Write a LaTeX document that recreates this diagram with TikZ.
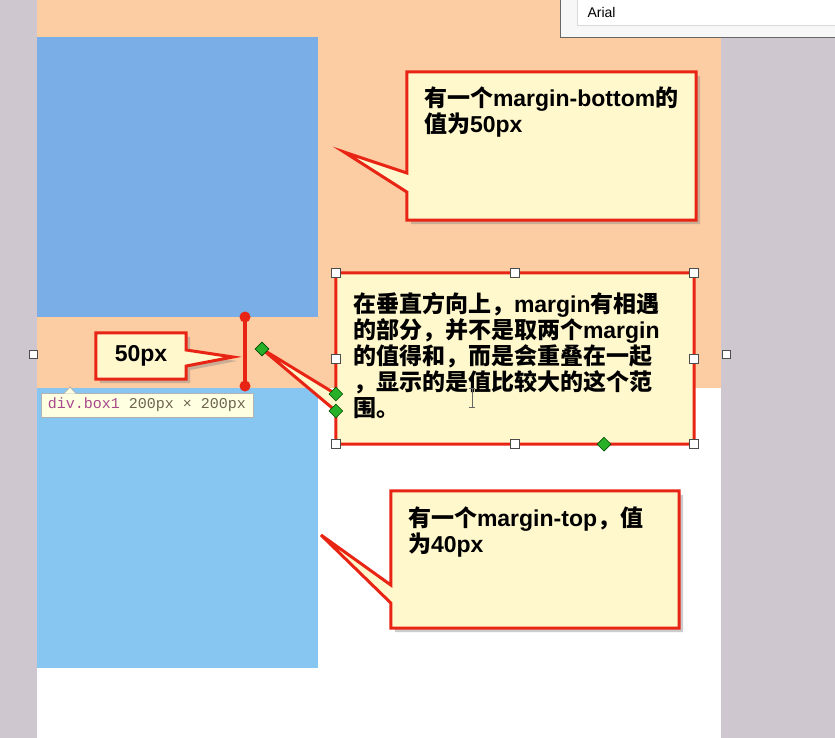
\documentclass[tikz,border=0pt]{standalone}
\usepackage{fontspec}
\setmainfont{Liberation Sans}
\newfontfamily\cjk{Noto Sans CJK SC}
\newfontfamily\tipfont{Liberation Mono}
\usepackage{xcolor}
\usepackage{tikz}
\usetikzlibrary{shapes}
\usetikzlibrary{shadows}
\usetikzlibrary{positioning}
\definecolor{peach}{RGB}{252,204,163}
\definecolor{side}{RGB}{207,199,208}
\definecolor{boxa}{RGB}{122,174,230}
\definecolor{boxb}{RGB}{136,198,242}
\definecolor{notefill}{RGB}{255,248,204}
\definecolor{notered}{RGB}{232,36,20}
\definecolor{tipfill}{RGB}{255,255,225}
\definecolor{tipname}{RGB}{168,72,140}
\definecolor{tipsize}{RGB}{110,100,80}
\definecolor{knobgreen}{RGB}{40,176,40}

\begin{document}
\begin{tikzpicture}[x=1pt,y=-1pt,
  frame/.style={rectangle,inner sep=0pt},
  noteline/.style={draw=notered,fill=notefill,line width=3pt,line join=miter},
  noteshadow/.style={drop shadow={shadow xshift=4pt,shadow yshift=-4pt,opacity=0.4}},
  notetext/.style={inner sep=0pt,align=left,font=\fontsize{23}{26}\selectfont\bfseries},
  handle/.style={rectangle,draw=black!70,fill=white,minimum size=9pt,inner sep=0pt,line width=0.8pt},
  knob/.style={diamond,draw=green!30!black,fill=knobgreen,minimum size=14pt,inner sep=0pt,line width=0.6pt},
  dot/.style={circle,fill=notered,minimum size=11pt,inner sep=0pt}]
  \useasboundingbox (0,0) rectangle (835,738);
  % page and the two boxes
  \fill[side] (0,0) rectangle (835,738);
  \fill[white] (37,0) rectangle (721,738);
  \fill[peach] (37,0) rectangle (721,388);
  \fill[boxa] (37,37) rectangle (318,317);
  \fill[boxb] (37,388) rectangle (318,668);

  % font panel
  \filldraw[fill=black!3,draw=black!60,line width=1pt] (560,-5) rectangle (840,38);
  \filldraw[fill=white,draw=black!15] (577,-5) rectangle (840,25);
  \node[anchor=west,font=\fontsize{14}{16}\selectfont] (fontname) at (584,12) {Arial};

  % margin-bottom note
  \node[frame,minimum width=289pt,minimum height=148pt] (topnote) at (551.5,146) {};
  \coordinate (toptip) at (344,152);
  \draw[noteline,noteshadow] (topnote.north west) -- (topnote.north east) -- (topnote.south east)
    -- (topnote.south west) -- (topnote.west |- 0,192) -- (toptip) -- (topnote.west |- 0,173) -- cycle;
  \node[notetext,below right=15pt and 17pt of topnote.north west] (toptext)
    {{\cjk 有一个}margin-bottom{\cjk 的}\\{\cjk 值为}50px};

  % margin-top note
  \node[frame,minimum width=288pt,minimum height=137pt] (lownote) at (535,559.5) {};
  \coordinate (lowtip) at (321,535);
  \draw[noteline,noteshadow] (lownote.north west) -- (lownote.north east) -- (lownote.south east)
    -- (lownote.south west) -- (lownote.west |- 0,603) -- (lowtip) -- (lownote.west |- 0,585) -- cycle;
  \node[notetext,below right=16pt and 17pt of lownote.north west] (lowtext)
    {{\cjk 有一个}margin-top{\cjk ，值}\\{\cjk 为}40px};

  % tooltip
  \node[rectangle,draw=black!30,fill=tipfill,line width=0.8pt,minimum width=212pt,minimum height=24pt,
    inner sep=0pt,font=\tipfont\fontsize{15}{17}\selectfont] (tip) at (147,405)
    {\textcolor{tipname}{div.box1} \textcolor{tipsize}{200px × 200px}};
  \filldraw[fill=tipfill,draw=black!30,line width=0.8pt] (64,393.5) -- (70,387) -- (76,393.5);

  % the 50px gap
  \node[dot] (mtop) at (245,317) {};
  \node[dot] (mbot) at (245,386) {};
  \draw[notered,line width=4pt] (mtop.center) -- (mbot.center);

  \node[frame,minimum width=90pt,minimum height=46pt] (pxnote) at (141,356) {};
  \coordinate (pxtip) at (233,357);
  \draw[noteline,noteshadow] (pxnote.north west) -- (pxnote.north east) -- (pxnote.east |- 0,350)
    -- (pxtip) -- (pxnote.east |- 0,366) -- (pxnote.south east) -- (pxnote.south west) -- cycle;
  \node[notetext] (pxtext) at (pxnote) {50px};

  % selected note
  \node[frame,minimum width=358pt,minimum height=171pt] (midnote) at (515,358.5) {};
  \coordinate (midtip) at (262,349);
  \draw[noteline] (midnote.north west) -- (midnote.north east) -- (midnote.south east)
    -- (midnote.south west) -- (midnote.west |- 0,411) -- (midtip) -- (midnote.west |- 0,394) -- cycle;
  \node[notetext,below right=19pt and 17pt of midnote.north west] (midtext)
    {{\cjk 在垂直方向上，}margin{\cjk 有相遇}\\{\cjk 的部分，并不是取两个}margin\\
     {\cjk 的值得和，而是会重叠在一起}\\{\cjk ，显示的是值比较大的这个范}\\{\cjk 围。}};
  \draw[black!60,line width=0.8pt] (469,388) -- (475,388) (472,388) -- (472,407) (469,407) -- (475,407);

  % handles
  \foreach \a/\n in {north west/nw,north/n,north east/ne,west/w,east/e,south west/sw,south/s,south east/se}
    \node[handle] (h\n) at (midnote.\a) {};
  \node[handle,minimum size=8pt] (hl) at (33,354) {};
  \node[handle,minimum size=8pt] (hr) at (726,354) {};
  \node[knob] (ktip) at (midtip) {};
  \node[knob] (kup) at (midnote.west |- 0,394) {};
  \node[knob] (kdown) at (midnote.west |- 0,411) {};
  \node[knob] (kbase) at (604,0 |- midnote.south) {};
\end{tikzpicture}
\end{document}
